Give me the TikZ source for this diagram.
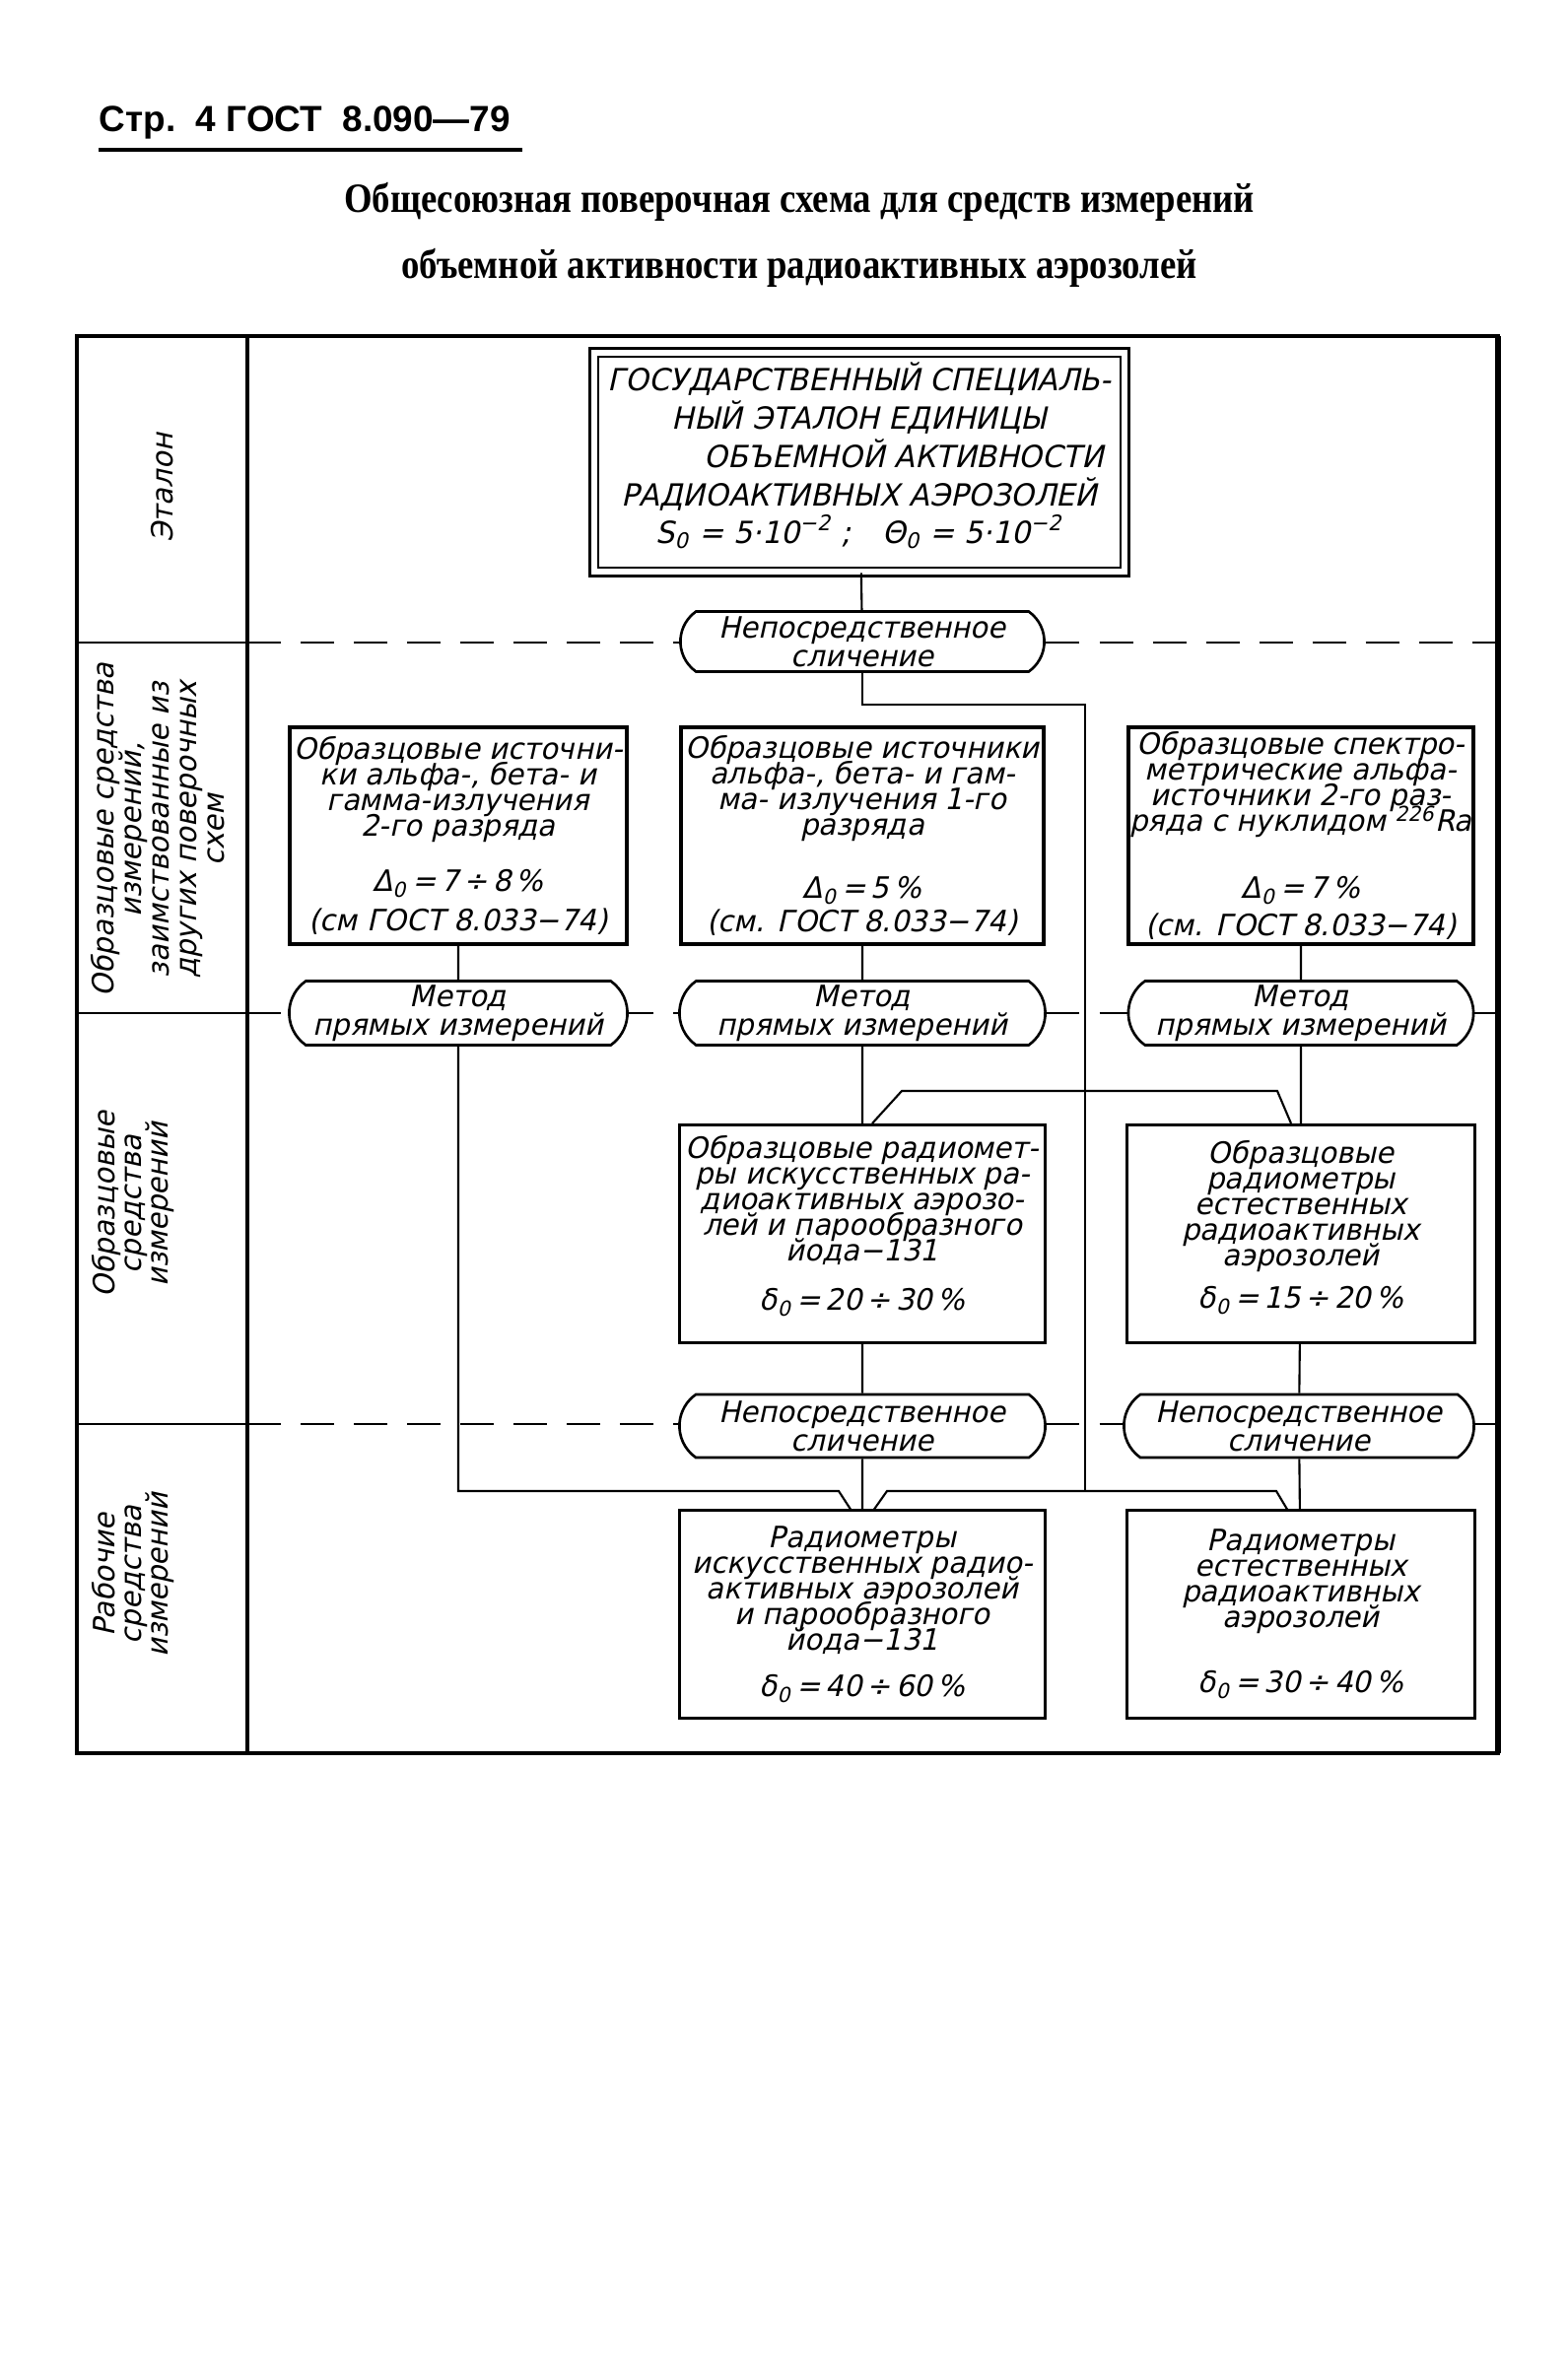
\documentclass[tikz,border=0pt]{standalone}
\usepackage{fontspec}
\setmainfont{DejaVu Sans}
\newfontfamily\gostfont{DejaVu Sans}[FakeSlant=0.22, FakeStretch=0.975]
\newfontfamily\titlefont{Liberation Serif}[FakeStretch=0.87]
\newfontfamily\headfont{Liberation Sans}
\usetikzlibrary{positioning, shapes.misc, calc}
% dichte Zeilen wie in der Handschrift
\setlength{\lineskiplimit}{-10pt}

\begin{document}
\begin{tikzpicture}[x=0.01cm, y=-0.01cm]
    \tikzset{
        scheme box/.style={
                draw=black, line width=0.85pt, fill=white, inner sep=0pt, align=center,
                font=\gostfont\fontsize{8.5}{7.4}\selectfont
            },
        source box/.style={scheme box, line width=1.1pt},
        compare oval/.style={
                rounded rectangle, rounded rectangle arc length=110,
                draw=black, line width=0.75pt, fill=white, inner sep=0pt, align=center,
                font=\gostfont\fontsize{8.5}{8.2}\selectfont
            },
        row label/.style={
                rotate=90, align=center, font=\gostfont\fontsize{8.5}{7.7}\selectfont
            },
        link/.style={line width=0.6pt},
        level line/.style={line width=0.75pt, dash pattern=on 0.34cm off 0.2cm}
    }

    \fill[white] (0,0) rectangle (1590,2412);
    \useasboundingbox (0,0) rectangle (1590,2412);

    % --- Kopf der Seite
    \node[anchor=west, inner sep=0pt, font=\headfont\bfseries\fontsize{10.5}{12}\selectfont] (head) at (100,124) {Стр.\ \ 4 ГОСТ\ \ 8.090—79};
    \draw[line width=1.2pt] (100,152) -- (530,152);
    \node[align=center, font=\titlefont\bfseries\fontsize{12}{19}\selectfont] (title) at (811,238)
        {Общесоюзная поверочная схема для средств измерений\\объемной активности радиоактивных аэрозолей};

    % --- Rahmen, Spalte und Ebenen
    \draw[line width=1.1pt] (78,341) rectangle (1520,1779);
    \draw[line width=1.6pt] (1520,341) -- (1520,1779);
    \draw[line width=1pt] (251,341) -- (251,1779);
    \foreach \y in {652,1028,1445} {
            \draw[line width=0.8pt] (78,\y) -- (251,\y);
            \draw[level line] (251,\y) -- (1520,\y);
        }

    \node[row label] (rowA) at (165,495) {Эталон};
    \node[row label, font=\gostfont\fontsize{8.5}{8}\selectfont] (rowB) at (160,842)
        {Образцовые средства\\измерений,\\заимствованные из\\других поверочных\\схем};
    \node[row label] (rowC) at (135,1222) {Образцовые\\средства\\измерений};
    \node[row label] (rowD) at (135,1598) {Рабочие\\средства\\измерений};

    % --- Eталон
    \node[scheme box, double, double distance=0.06cm, line width=0.7pt,
        minimum width=5.38cm, minimum height=2.22cm,
        font=\gostfont\fontsize{8.8}{11}\selectfont] (etalon) at (872,469)
        {ГОСУДАРСТВЕННЫЙ СПЕЦИАЛЬ-\\НЫЙ ЭТАЛОН ЕДИНИЦЫ\hspace{0.7cm}\\\hspace{0.9cm}ОБЪЕМНОЙ АКТИВНОСТИ\\РАДИОАКТИВНЫХ АЭРОЗОЛЕЙ\\S\textsubscript{0} = 5·10\textsuperscript{−2} ;\quad Θ\textsubscript{0} = 5·10\textsuperscript{−2}\rule[-0.18cm]{0pt}{0pt}};
    \node[compare oval, minimum width=3.69cm, minimum height=0.61cm] (cmpTop) at (875,651) {Непосредственное\\сличение};

    % --- Образцовые средства из других схем
    \node[source box, minimum width=3.42cm, minimum height=2.2cm] (srcA) at (465,848)
        {Образцовые источни-\\ки альфа-, бета- и\\гамма-излучения\\2-го разряда\\[0.30cm]Δ\textsubscript{0}\,=\,7\,÷\,8\,\%\\[0.14cm](см ГОСТ 8.033−74)};
    \node[source box, minimum width=3.67cm, minimum height=2.2cm] (srcB) at (875,848)
        {Образцовые источники\\альфа-, бета- и гам-\\ма- излучения 1-го\\разряда\\[0.38cm]Δ\textsubscript{0}\,=\,5\,\%\\[0.08cm](см. ГОСТ 8.033−74)};
    \node[source box, minimum width=3.49cm, minimum height=2.2cm] (srcC) at (1320,848)
        {Образцовые спектро-\\метрические альфа-\\источники 2-го раз-\\ряда с нуклидом \textsuperscript{226}Ra\\[0.42cm]Δ\textsubscript{0}\,=\,7\,\%\\[0.12cm](см. ГОСТ 8.033−74)};

    \node[compare oval, minimum width=3.43cm, minimum height=0.65cm] (metA) at (465,1028) {Метод\\прямых измерений};
    \node[compare oval, minimum width=3.71cm, minimum height=0.65cm] (metB) at (875,1028) {Метод\\прямых измерений};
    \node[compare oval, minimum width=3.50cm, minimum height=0.65cm] (metC) at (1320,1028) {Метод\\прямых измерений};

    % --- Образцовые средства измерений
    \node[scheme box, minimum width=3.71cm, minimum height=2.21cm] (radD) at (875,1252)
        {Образцовые радиомет-\\ры искусственных ра-\\диоактивных аэрозо-\\лей и парообразного\\йода−131\\[0.24cm]δ\textsubscript{0}\,=\,20\,÷\,30\,\%\rule[-0.22cm]{0pt}{0pt}};
    \node[scheme box, minimum width=3.52cm, minimum height=2.21cm] (radE) at (1320,1252)
        {Образцовые\\радиометры\\естественных\\радиоактивных\\аэрозолей\\[0.17cm]δ\textsubscript{0}\,=\,15\,÷\,20\,\%\rule[-0.2cm]{0pt}{0pt}};

    \node[compare oval, minimum width=3.71cm, minimum height=0.64cm] (cmpD) at (875,1447) {Непосредственное\\сличение};
    \node[compare oval, minimum width=3.55cm, minimum height=0.64cm] (cmpE) at (1318,1447) {Непосредственное\\сличение};

    % --- Рабочие средства измерений
    \node[scheme box, minimum width=3.71cm, minimum height=2.10cm] (workF) at (875,1638)
        {Радиометры\\искусственных радио-\\активных аэрозолей\\и парообразного\\йода−131\\[0.21cm]δ\textsubscript{0}\,=\,40\,÷\,60\,\%};
    \node[scheme box, minimum width=3.52cm, minimum height=2.10cm] (workG) at (1320,1638)
        {Радиометры\\естественных\\радиоактивных\\аэрозолей\\[0.40cm]δ\textsubscript{0}\,=\,30\,÷\,40\,\%};

    % --- Verbindungen
    \coordinate (jTop) at (1101,715);
    \coordinate (jBot) at (1101,1513);
    \coordinate (bridgeL) at (915,1107);
    \coordinate (bridgeR) at (1296,1107);
    \coordinate (lowL) at (851,1513);
    \coordinate (lowR) at (900,1513);
    \coordinate (lowE) at (1295,1513);

    \draw[link] (etalon) -- (cmpTop);
    \draw[link] (cmpTop.south) |- (jTop) -- (jBot);
    \draw[link] (srcA) -- (metA);
    \draw[link] (srcB) -- (metB);
    \draw[link] (srcC) -- (metC);
    \draw[link] (metB) -- (radD);
    \draw[link] (metC) -- (radE);
    \draw[link] ([xshift=0.1cm]radD.north) -- (bridgeL) -- (bridgeR) -- ([xshift=-0.1cm]radE.north);
    \draw[link] (radD) -- (cmpD);
    \draw[link] (radE) -- (cmpE);
    \draw[link] (cmpD) -- (workF);
    \draw[link] (cmpE) -- (workG);
    \draw[link] (metA.south) |- (lowL) -- ([xshift=-0.12cm]workF.north);
    \draw[link] ([xshift=0.12cm]workF.north) -- (lowR) -- (lowE) -- ([xshift=-0.14cm]workG.north);
\end{tikzpicture}
\end{document}
